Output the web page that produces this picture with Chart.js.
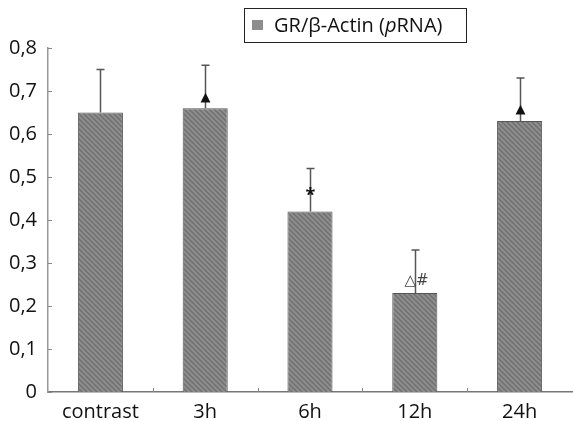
<!DOCTYPE html>
<html>
<head>
<meta charset="utf-8">
<script src="https://cdn.jsdelivr.net/npm/chart.js@4/dist/chart.umd.min.js"></script>
<style>
  html, body { margin: 0; padding: 0; background: #fff; }
  #wrap { width: 573px; height: 421px; position: relative; }
</style>
</head>
<body>
<div id="wrap"><canvas id="chart" width="573" height="421"></canvas></div>
<script>
// data
const categories = ["contrast", "3h", "6h", "12h", "24h"];
const ratioValues = [0.65, 0.66, 0.42, 0.23, 0.63];
const errorValues = [0.10, 0.10, 0.10, 0.10, 0.10];
const markers = ["", "▲", "*", "△#", "▲"];
const tickValues = [0, 0.1, 0.2, 0.3, 0.4, 0.5, 0.6, 0.7, 0.8];
const seriesName = ["GR/β-Actin (", "p", "RNA)"];

const FONT = "'Open Sans', 'Noto Sans', sans-serif";

// hatched gray fill like the scanned bars
function makeHatch() {
  const c = document.createElement("canvas");
  c.width = 5; c.height = 5;
  const g = c.getContext("2d");
  g.fillStyle = "#8d8d8d";
  g.fillRect(0, 0, 5, 5);
  g.strokeStyle = "#6f6f6f";
  g.lineWidth = 1.4;
  g.beginPath();
  g.moveTo(-1, -1); g.lineTo(6, 6);
  g.moveTo(-1, 4); g.lineTo(1, 6);
  g.moveTo(4, -1); g.lineTo(6, 1);
  g.stroke();
  return g.createPattern(c, "repeat");
}

const extrasPlugin = {
  id: "extras",
  afterDatasetsDraw(chart) {
    const ctx = chart.ctx;
    const x = chart.scales.x, y = chart.scales.y;
    const area = chart.chartArea;
    ctx.save();

    // inward ticks on the y axis
    ctx.strokeStyle = "#888";
    ctx.lineWidth = 1;
    tickValues.forEach(v => {
      const py = Math.round(y.getPixelForValue(v)) + 0.5;
      ctx.beginPath();
      ctx.moveTo(area.left, py);
      ctx.lineTo(area.left + 4, py);
      ctx.stroke();
    });
    // small ticks between categories on the x axis
    for (let i = 1; i < categories.length; i++) {
      const px = Math.round((x.getPixelForValue(i - 1) + x.getPixelForValue(i)) / 2) + 0.5;
      ctx.beginPath();
      ctx.moveTo(px, area.bottom);
      ctx.lineTo(px, area.bottom - 4);
      ctx.stroke();
    }

    // error bars (upper only) and significance marks
    ratioValues.forEach((v, i) => {
      const px = Math.round(x.getPixelForValue(i)) + 0.5;
      const top = y.getPixelForValue(v);
      const end = y.getPixelForValue(v + errorValues[i]);
      ctx.strokeStyle = "#555";
      ctx.lineWidth = 1.5;
      ctx.beginPath();
      ctx.moveTo(px, top);
      ctx.lineTo(px, end);
      ctx.moveTo(px - 4, end);
      ctx.lineTo(px + 4, end);
      ctx.stroke();

      const m = markers[i];
      if (!m) return;
      ctx.fillStyle = "#111";
      ctx.textAlign = "center";
      ctx.textBaseline = "middle";
      if (m === "▲") {
        ctx.font = "13px 'DejaVu Sans'";
        ctx.fillText(m, px, top - 11);
      } else if (m === "*") {
        ctx.font = "bold 18px " + FONT;
        ctx.fillText(m, px, top - 16);
      } else {
        ctx.fillStyle = "#444";
        ctx.font = "15px 'DejaVu Sans'";
        ctx.fillText(m, px + 1, top - 12);
      }
    });

    // legend box
    ctx.strokeStyle = "#222";
    ctx.lineWidth = 1;
    ctx.strokeRect(244.5, 8.5, 222, 34);
    ctx.fillStyle = "#8d8d8d";
    ctx.fillRect(252, 20, 11, 10);
    ctx.fillStyle = "#111";
    ctx.textAlign = "left";
    ctx.textBaseline = "middle";
    let tx = 274;
    const ty = 26;
    seriesName.forEach((part, k) => {
      ctx.font = (k === 1 ? "italic " : "") + "20px " + FONT;
      ctx.fillText(part, tx, ty);
      tx += ctx.measureText(part).width;
    });
    ctx.restore();
  }
};

new Chart(document.getElementById("chart"), {
  type: "bar",
  data: {
    labels: categories,
    datasets: [{
      label: seriesName.join(""),
      data: ratioValues,
      backgroundColor: makeHatch(),
      borderColor: "#555",
      borderWidth: 1,
      categoryPercentage: 1,
      barPercentage: 0.43
    }]
  },
  options: {
    responsive: false,
    animation: false,
    layout: { padding: { top: 48, right: 1, left: 0, bottom: 0 } },
    plugins: { legend: { display: false }, tooltip: { enabled: false } },
    scales: {
      x: {
        grid: { display: false },
        border: { color: "#777", width: 1.5 },
        ticks: { color: "#111", font: { family: FONT, size: 20 }, padding: 0, maxRotation: 0 },
        afterFit(s) { s.height = 29; }
      },
      y: {
        min: 0,
        max: 0.8,
        grid: { display: false },
        border: { color: "#999", width: 1.5 },
        afterBuildTicks(s) { s.ticks = tickValues.map(v => ({ value: v })); },
        ticks: {
          color: "#111",
          font: { family: FONT, size: 20 },
          padding: 3,
          callback: v => v === 0 ? "0" : v.toFixed(1).replace(".", ",")
        },
        afterFit(s) { s.width = 48; }
      }
    }
  },
  plugins: [extrasPlugin]
});
</script>
</body>
</html>
